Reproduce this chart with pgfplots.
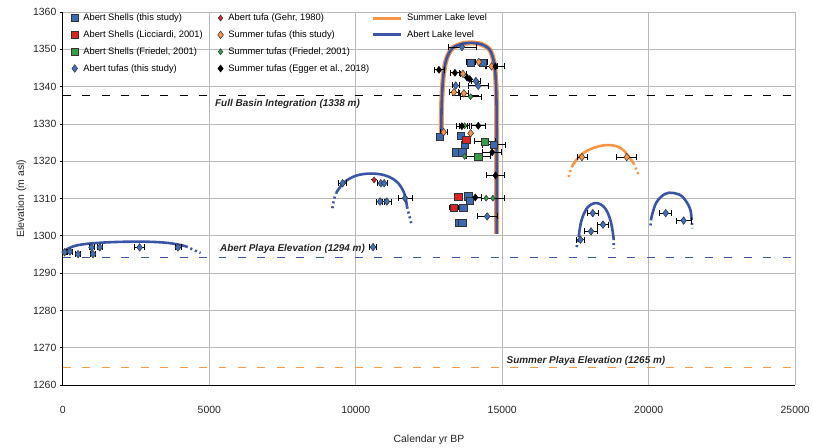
\documentclass[border=0pt]{standalone}
\usepackage{pgfplots}
\pgfplotsset{compat=1.18}
\usepackage{fontspec}
\setmainfont{Liberation Sans}
\definecolor{sqblue}{RGB}{59,106,178}
\definecolor{dmblue}{RGB}{64,112,186}
\definecolor{lineblue}{RGB}{58,84,166}
\definecolor{sorange}{RGB}{247,150,70}
\definecolor{mred}{RGB}{222,35,35}
\definecolor{mgreen}{RGB}{56,158,66}
\pgfplotsset{ebar/.style={error bars/x dir=both, error bars/x explicit,
    error bars/error bar style={black, line width=0.8pt},
    error bars/error mark options={black, rotate=90, mark size=3bp, line width=0.8pt}},
  sqB/.style={only marks, mark=square*, mark size=3.6bp, mark options={fill=sqblue, draw=black!80, line width=0.5pt}},
  sqR/.style={only marks, mark=square*, mark size=3.6bp, mark options={fill=mred, draw=black!80, line width=0.5pt}},
  sqG/.style={only marks, mark=square*, mark size=3.6bp, mark options={fill=mgreen, draw=black!80, line width=0.5pt}},
  dmB/.style={only marks, mark=diamond*, mark size=3.8bp, mark options={fill=dmblue, draw=black!80, line width=0.5pt}},
  dmR/.style={only marks, mark=diamond*, mark size=3bp, mark options={fill=mred, draw=black!80, line width=0.5pt}},
  dmO/.style={only marks, mark=diamond*, mark size=3.8bp, mark options={fill=sorange, draw=black!80, line width=0.5pt}},
  dmG/.style={only marks, mark=diamond*, mark size=3bp, mark options={fill=mgreen, draw=black!80, line width=0.5pt}},
  dmK/.style={only marks, mark=diamond*, mark size=3.5bp, mark options={fill=black, draw=black, line width=0.5pt}},
  lakeline/.style={legend image code/.code={\draw[#1, line width=3bp] (0bp,0bp) -- (28bp,0bp);}},
}
\begin{document}
\begin{tikzpicture}
\begin{axis}[
  name=ax,
  scale only axis, width=734bp, height=374bp,
  xmin=0, xmax=25000, ymin=1260, ymax=1360,
  xtick={0,5000,...,25000}, ytick={1260,1270,...,1360},
  scaled x ticks=false,
  /pgf/number format/1000 sep={},
  /pgf/number format/assume math mode=true,
  grid=major, grid style={gray!55, line width=0.8pt},
  axis lines=left, axis line style={-, black, line width=0.9pt},
  tick style={black, line width=0.8pt}, tick align=outside, major tick length=3bp,
  xtick style={draw=none},
  ticklabel style={font=\fontsize{10.5}{12}\selectfont, text=black!85},
  xticklabel style={yshift=-15bp},
  xlabel={Calendar yr BP}, ylabel={Elevation (m asl)},
  label style={font=\fontsize{10.5}{12}\selectfont, text=black!85},
  xlabel style={yshift=-14bp},
  ylabel style={yshift=0bp},
  clip=false,
  legend style={at={(rel axis cs:0.007,1.006)}, anchor=north west, draw=none, fill=none,
    font=\fontsize{9.4}{11}\selectfont, row sep=4.6bp, column sep=3bp, cells={anchor=west},
    /tikz/column 2/.style={column sep=13bp},
    /tikz/column 4/.style={column sep=0bp}},
  legend columns=3,
]
% horizontal reference lines
\addplot[forget plot, black, line width=0.9pt, dash pattern=on 8bp off 11.5bp] coordinates {(0,1337.6) (25000,1337.6)};
\addplot[forget plot, lineblue, line width=0.9pt, dash pattern=on 8bp off 11.5bp] coordinates {(0,1294.1) (25000,1294.1)};
\addplot[forget plot, sorange, line width=1.1pt, dash pattern=on 8bp off 11.5bp] coordinates {(0,1264.7) (25000,1264.7)};
% lake level curves
\addplot[forget plot, sorange, line width=5bp, smooth, tension=0.5] coordinates {(12920,1325.5)(12930,1335)(12990,1343)(13100,1347.5)(13300,1350.3)(13650,1351.5)(14000,1351.7)(14300,1351.3)(14580,1349.8)(14730,1346)(14790,1340)(14810,1330)(14810,1300.5)};
\addplot[forget plot, lineblue, line width=2.6bp, smooth, tension=0.5] coordinates {(12920,1325.5)(12930,1335)(12990,1343)(13100,1347.5)(13300,1350.3)(13650,1351.5)(14000,1351.7)(14300,1351.3)(14580,1349.8)(14730,1346)(14790,1340)(14810,1330)(14810,1300.5)};
\addplot[forget plot, lineblue, line width=2.6bp, smooth, tension=0.6] coordinates {(50,1296.0)(400,1297.3)(1000,1298)(2000,1298.4)(3000,1298.4)(3700,1298)(4200,1297.2)};
\addplot[forget plot, lineblue, line width=2.6bp, dash pattern=on 2bp off 3bp, smooth] coordinates {(4200,1297.2)(4450,1296.3)(4700,1295.4)};
\addplot[forget plot, lineblue, line width=2.6bp, dash pattern=on 2bp off 3bp, smooth] coordinates {(9200,1307.4)(9250,1309.5)(9330,1311.5)};
\addplot[forget plot, lineblue, line width=2.6bp, smooth, tension=0.6] coordinates {(9330,1311.5)(9600,1314.3)(10000,1316.1)(10500,1316.7)(11000,1316.2)(11400,1314.5)(11650,1311.5)(11750,1307.8)};
\addplot[forget plot, lineblue, line width=2.6bp, dash pattern=on 2bp off 3bp, smooth] coordinates {(11750,1307.8)(11820,1305.6)(11890,1303.4)};
\addplot[forget plot, sorange, line width=2.6bp, dash pattern=on 2bp off 3bp, smooth] coordinates {(17270,1315.8)(17320,1317.2)(17370,1318.5)};
\addplot[forget plot, sorange, line width=2.6bp, smooth, tension=0.6] coordinates {(17370,1318.5)(17700,1321.8)(18200,1323.8)(18700,1324.3)(19100,1323.2)(19480,1319.5)};
\addplot[forget plot, sorange, line width=2.6bp, dash pattern=on 2bp off 3bp, smooth] coordinates {(19480,1319.5)(19570,1317.9)(19650,1316.3)};
\addplot[forget plot, lineblue, line width=2.6bp, dash pattern=on 2bp off 3bp] coordinates {(17540,1297.0)(17610,1299.7)};
\addplot[forget plot, lineblue, line width=2.6bp, smooth, tension=0.6] coordinates {(17610,1299.7)(17700,1304)(17900,1307.5)(18200,1308.8)(18500,1307.5)(18700,1304)(18800,1299.4)};
\addplot[forget plot, lineblue, line width=2.6bp, dash pattern=on 2bp off 3bp] coordinates {(18800,1299.4)(18810,1296.6)};
\addplot[forget plot, lineblue, line width=2.6bp, dash pattern=on 2bp off 3bp] coordinates {(20060,1302.8)(20080,1304.5)};
\addplot[forget plot, lineblue, line width=2.6bp, smooth, tension=0.6] coordinates {(20080,1304.5)(20250,1308.8)(20550,1311.2)(20840,1311.5)(21150,1310.5)(21400,1307.5)(21460,1304.8)};
\addplot[forget plot, lineblue, line width=2.6bp, dash pattern=on 2bp off 3bp] coordinates {(21460,1304.8)(21490,1302)};
% data: Abert Shells (this study)
\addplot[forget plot, ebar, sqB]
 table[x=x, y=y, x error=e] {
x y e
12875 1326.6 100
13920 1346.5 150
14340 1346.5 150
13580 1326.8 120
13725 1324.4 120
14715 1324.4 400
13410 1322.4 100
13635 1322.4 100
13840 1310.6 120
13890 1309.4 120
13670 1307.6 120
13520 1303.6 100
13635 1303.6 100
};
% Abert Shells (Licciardi, 2001)
\addplot[forget plot, ebar, sqR]
 table[x=x, y=y, x error=e] {
x y e
13770 1325.7 100
13500 1310.4 150
13350 1307.6 150
};
% Abert Shells (Friedel, 2001)
\addplot[forget plot, ebar, sqG]
 table[x=x, y=y, x error=e] {
x y e
14410 1325.3 350
14180 1321.3 400
};
% Abert tufas (this study)
\addplot[forget plot, ebar, dmB]
 table[x=x, y=y, x error=e] {
x y e
13625 1350.6 480
14100 1341.5 150
14180 1340.2 330
13410 1340.3 120
14485 1305.2 350
9550 1314.1 140
10855 1314.1 120
10970 1314.1 120
10830 1309.2 140
11060 1309.2 140
11680 1310.1 240
10590 1297.0 120
60 1295.6 60
240 1295.8 80
520 1295.1 80
980 1296.9 80
1260 1296.9 80
1030 1295.1 80
2620 1296.9 170
3930 1296.9 100
18090 1306.1 180
18440 1303.0 200
18030 1301.2 220
17670 1299.0 150
20580 1306.1 200
21190 1304.1 250
};
% Abert tufa (Gehr, 1980)
\addplot[forget plot, ebar, dmR]
 table[x=x, y=y, x error=e] {
x y e
10625 1315.0 0
};
% Summer tufas (this study)
\addplot[forget plot, ebar, dmO]
 table[x=x, y=y, x error=e] {
x y e
13000 1327.8 120
14200 1346.6 150
14635 1345.4 200
13660 1343.4 100
13350 1338.5 150
13690 1338.2 150
13920 1327.5 0
17720 1321.1 170
19250 1321.1 340
};
% Summer tufas (Friedel, 2001)
\addplot[forget plot, ebar, dmG]
 table[x=x, y=y, x error=e] {
x y e
13920 1337.3 360
13715 1329.5 180
13715 1321.3 0
14450 1310.1 0
14680 1310.1 400
};
% Summer tufas (Egger et al., 2018)
\addplot[forget plot, ebar, dmK]
 table[x=x, y=y, x error=e] {
x y e
14770 1345.4 300
12840 1344.5 170
13385 1343.7 150
13800 1342.4 0
13890 1342.0 0
13620 1329.4 180
14180 1329.5 240
14655 1322.4 330
14770 1316.2 310
14080 1310.3 200
};
% legend (row-wise)
\addlegendimage{sqB}\addlegendentry{Abert Shells (this study)}
\addlegendimage{dmR}\addlegendentry{Abert tufa (Gehr, 1980)}
\addlegendimage{lakeline=sorange}\addlegendentry{Summer Lake level}
\addlegendimage{sqR}\addlegendentry{Abert Shells (Licciardi, 2001)}
\addlegendimage{dmO}\addlegendentry{Summer tufas (this study)}
\addlegendimage{lakeline=lineblue}\addlegendentry{Abert Lake level}
\addlegendimage{sqG}\addlegendentry{Abert Shells (Friedel, 2001)}
\addlegendimage{dmG}\addlegendentry{Summer tufas (Friedel, 2001)}
\addlegendimage{empty legend}\addlegendentry{}
\addlegendimage{dmB}\addlegendentry{Abert tufas (this study)}
\addlegendimage{dmK}\addlegendentry{Summer tufas (Egger et al., 2018)}
\addlegendimage{empty legend}\addlegendentry{}
% annotations
\node[anchor=west, font=\fontsize{10}{11}\selectfont\bfseries\itshape, text=black!85] at (axis cs:5080,1335.4) {Full Basin Integration (1338 m)};
\node[anchor=west, font=\fontsize{10}{11}\selectfont\bfseries\itshape, text=black!85] at (axis cs:5250,1296.6) {Abert Playa Elevation (1294 m)};
\node[anchor=west, font=\fontsize{10}{11}\selectfont\bfseries\itshape, text=black!85] at (axis cs:15030,1266.6) {Summer Playa Elevation (1265 m)};
\end{axis}
\path ([xshift=-63bp,yshift=-60bp]ax.south west) rectangle ([xshift=16bp,yshift=12bp]ax.north east);
\end{tikzpicture}
\end{document}
